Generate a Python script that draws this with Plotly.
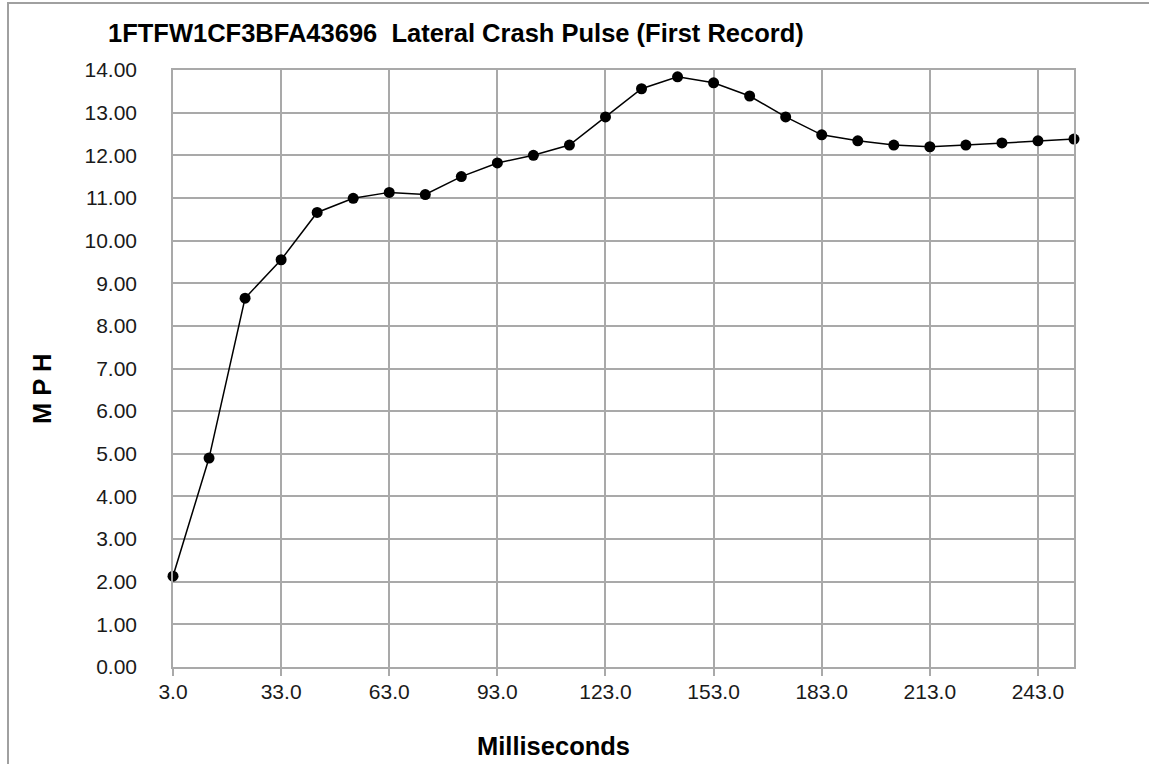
import plotly.graph_objects as go

# ---- data ----
milliseconds = [3, 13, 23, 33, 43, 53, 63, 73, 83, 93, 103, 113, 123,
                133, 143, 153, 163, 173, 183, 193, 203, 213, 223, 233, 243, 253]
mph = [2.13, 4.90, 8.65, 9.55, 10.66, 10.99, 11.13, 11.08, 11.50, 11.82, 12.00, 12.24, 12.90,
       13.56, 13.84, 13.70, 13.39, 12.90, 12.48, 12.34, 12.24, 12.20, 12.24, 12.29, 12.34, 12.38]
x_ticks = [3, 33, 63, 93, 123, 153, 183, 213, 243]
y_ticks = list(range(0, 15))

title_text = "1FTFW1CF3BFA43696  Lateral Crash Pulse (First Record)"
x_title = "Milliseconds"
y_title = "M P H"

W, H = 1149, 764
L, R, T, B = 173, 75, 70, 97
pw, ph = W - L - R, H - T - B

def px(x):
    return (x - L) / pw

def py(y):
    return (H - B - y) / ph

GRID = "#a9a9a9"
FONT = "Liberation Sans, Arial, sans-serif"

fig = go.Figure()
fig.add_trace(go.Scatter(
    x=milliseconds, y=mph, mode="lines+markers",
    line=dict(color="black", width=1.5),
    marker=dict(color="black", size=11, symbol="circle"),
    cliponaxis=False, showlegend=False,
))

fig.update_layout(
    width=W, height=H,
    margin=dict(l=L, r=R, t=T, b=B, autoexpand=False),
    paper_bgcolor="white", plot_bgcolor="white",
    font=dict(family=FONT, color="#1a1a1a", size=21),
    xaxis=dict(
        range=[3, 253], tickvals=x_ticks, tickformat=".1f",
        showgrid=True, gridcolor=GRID, gridwidth=1.5,
        showline=True, linecolor=GRID, linewidth=1.5, mirror=True,
        ticks="outside", ticklen=7, tickcolor=GRID, tickwidth=1.5,
        ticklabelstandoff=-2, zeroline=False,
        tickfont=dict(size=21),
    ),
    yaxis=dict(
        range=[0, 14], tickvals=y_ticks, tickformat=".2f",
        showgrid=True, gridcolor=GRID, gridwidth=1.5,
        showline=True, linecolor=GRID, linewidth=1.5, mirror=True,
        ticks="", ticklabelstandoff=30, zeroline=False,
        tickfont=dict(size=21),
    ),
    shapes=[dict(type="rect", xref="paper", yref="paper",
                 x0=px(8), x1=px(1170), y0=py(790), y1=py(3),
                 line=dict(color="#a0a0a0", width=2), fillcolor="rgba(0,0,0,0)",
                 layer="below")],
    annotations=[
        dict(text="<b>%s</b>" % title_text, xref="paper", yref="paper",
             x=px(456), y=py(33), xanchor="center", yanchor="middle",
             showarrow=False, font=dict(size=25.5, color="black", family=FONT)),
        dict(text="<b>%s</b>" % x_title, xref="paper", yref="paper",
             x=px(553), y=py(746), xanchor="center", yanchor="middle",
             showarrow=False, font=dict(size=25.5, color="black", family=FONT)),
        dict(text="<b>%s</b>" % y_title, xref="paper", yref="paper",
             x=px(42), y=py(389), xanchor="center", yanchor="middle",
             textangle=-90, showarrow=False,
             font=dict(size=25.5, color="black", family=FONT)),
    ],
)

fig.write_html("out.html", config={"displayModeBar": False},
               post_script="document.body.style.margin='0px';document.body.style.overflow='hidden';")
